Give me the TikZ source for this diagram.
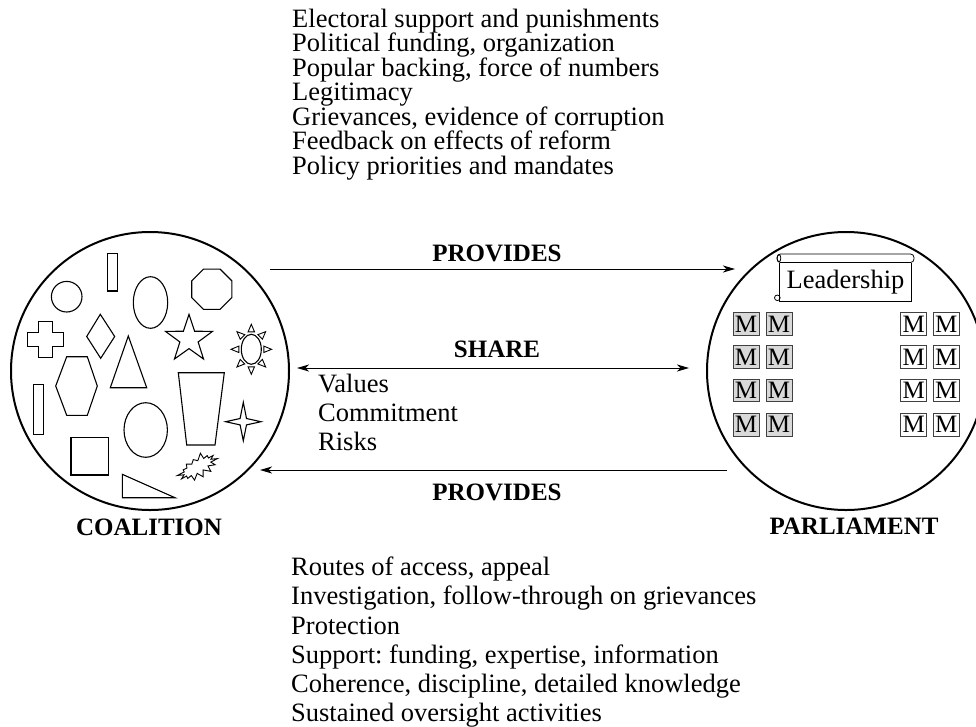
\documentclass[tikz,border=0pt]{standalone}
\usepackage{fontspec}
\setmainfont{Liberation Serif}
\usetikzlibrary{arrows.meta,shapes.geometric,shapes.symbols,calc}
\frenchspacing
\begin{document}
\begin{tikzpicture}[x=1pt,y=-1pt,
  txt/.style={font=\fontsize{26.5}{29}\selectfont, inner sep=0pt, anchor=base west},
  lbl/.style={font=\fontsize{25}{29}\selectfont\bfseries, inner sep=0pt, anchor=base},
  big/.style={circle, draw, line width=2pt, minimum size=278pt, inner sep=0pt},
  shp/.style={draw, line width=1.1pt, line join=miter},
  tip/.tip={Stealth[length=12pt,width=7pt,inset=3.5pt]},
  arr/.style={line width=1pt, -tip},
  mbox/.style={draw=black!75, line width=0.8pt, minimum width=26pt, minimum height=22.5pt, inner sep=0pt, font=\fontsize{25}{29}\selectfont},
  mfill/.style={mbox, fill=black!15}]
\useasboundingbox (0,0) rectangle (976,726);

% big circles
\node[big] (coal) at (150,371) {};
\node[big] (parl) at (846,371) {};
\node[lbl] (coallbl) at (149,535) {COALITION};
\node[lbl] (parllbl) at (854,534) {PARLIAMENT};

% arrows
\coordinate (p1s) at (270,269); \coordinate (p1e) at (735,269);
\draw[arr] (p1s) -- (p1e);
\node[lbl] (prov1) at (497,261) {PROVIDES};
\coordinate (s1) at (297,368); \coordinate (s2) at (689,368);
\draw[line width=1pt, tip-tip] (s1) -- (s2);
\node[lbl] (share) at (497,357) {SHARE};
\coordinate (p2s) at (727,470); \coordinate (p2e) at (260,470);
\draw[arr] (p2s) -- (p2e);
\node[lbl] (prov2) at (497,500.5) {PROVIDES};

% text lists
\foreach \t [count=\i from 0] in {Electoral support and punishments,
  {Political funding, organization}, {Popular backing, force of numbers},
  Legitimacy, {Grievances, evidence of corruption}, Feedback on effects of reform,
  Policy priorities and mandates}
  \node[txt] (top\i) at (292,27.3+24.45*\i) {\t};
\foreach \t [count=\i from 0] in {Values, Commitment, Risks}
  \node[txt] (mid\i) at (318,392.7+28.9*\i) {\t};
\foreach \t [count=\i from 0] in {{Routes of access, appeal},
  {Investigation, follow-through on grievances}, Protection,
  {Support: funding, expertise, information},
  {Coherence, discipline, detailed knowledge}, Sustained oversight activities}
  \node[txt] (bot\i) at (291,575.7+29.2*\i) {\t};

% leadership scroll
\draw[line width=0.8pt, rounded corners=3.5pt] (777,254) rectangle (914,262.5);
\draw[line width=0.8pt] (779,258.2) ellipse (1.8 and 3.6);
\draw[line width=0.8pt] (779.5,262.5) -- (779.5,301) -- (911.5,301) -- (911.5,262.5);
\draw[line width=0.8pt] (777.3,297.8) circle (2.8);
\node[font=\fontsize{26.5}{29}\selectfont, inner sep=0pt, anchor=base] (lead) at (845.5,288.3) {Leadership};

% M boxes
\foreach \x/\c in {746/a, 779/b}
  \foreach \y [count=\r] in {324,357,390.5,424.7}
    \node[mfill] (m\c\r) at (\x,\y) {M};
\foreach \x/\c in {913.7/c, 946.3/d}
  \foreach \y [count=\r] in {324,357,390.5,424.7}
    \node[mbox] (m\c\r) at (\x,\y) {M};

% shapes in coalition
\draw[shp] (107.3,253.3) rectangle (117.7,291);
\draw[shp] (66.7,296.7) circle (15.3);
\draw[shp] (150.5,302.5) ellipse (17.2 and 25.8);
\node[shp, regular polygon, regular polygon sides=8, minimum size=43.5pt, inner sep=0pt] (oct) at (211.8,289.2) {};
\draw[shp] (38.3,321.7) -- (52.3,321.7) -- (52.3,332.3) -- (63.3,332.3) -- (63.3,346.7) -- (52.3,346.7) -- (52.3,357.3) -- (38.3,357.3) -- (38.3,346.7) -- (27.3,346.7) -- (27.3,332.3) -- (38.3,332.3) -- cycle;
\draw[shp] (100.3,314.3) -- (114.7,336.5) -- (100.7,358.3) -- (86.7,336.5) -- cycle;
\draw[shp] (128.3,336) -- (146.7,387.7) -- (110.3,387.7) -- cycle;
\draw[shp] (189,314.3) \foreach \k in {1,...,9} { -- ({189+(mod(\k,2)==0?24.7:9.6)*cos(-90+36*\k)}, {339+(mod(\k,2)==0?24.7:9.6)*sin(-90+36*\k)}) } -- cycle;
% sun
\draw[shp] (251.3,349.3) ellipse (10 and 15);
\foreach \a in {0,45,...,315}
  \draw[line width=0.9pt, line join=miter] ({251.3+12.5*cos(\a)-3.2*sin(\a)}, {349.3+17.5*sin(\a)+3.2*cos(\a)}) -- ({251.3+20.3*cos(\a)}, {349.3+25*sin(\a)}) -- ({251.3+12.5*cos(\a)+3.2*sin(\a)}, {349.3+17.5*sin(\a)-3.2*cos(\a)}) -- cycle;
\draw[shp] (55.7,386) -- (66.7,356.7) -- (87.3,356.7) -- (97.3,386) -- (87.3,415.3) -- (66.7,415.3) -- cycle;
\draw[shp] (33.7,384.3) rectangle (43.7,434.3);
\draw[shp] (178.3,372.7) -- (224.3,372.7) -- (215,445) -- (186.7,445) -- cycle;
\draw[shp] (145.7,430) ellipse (21.7 and 27.3);
\draw[shp] (261,421.7) -- (246.5,418.5) -- (243.3,402.3) -- (240.1,418.5) -- (225.7,421.7) -- (240.1,424.9) -- (243.3,440.7) -- (246.5,424.9) -- cycle;
\draw[shp] (71,437.3) rectangle (108.7,475);
\draw[shp] (122.3,474.3) -- (175,497.7) -- (122.3,497.7) -- cycle;
\node[draw, line width=0.9pt, line join=miter, starburst, starburst points=14, starburst point height=7pt, random starburst=42, minimum width=45pt, minimum height=25pt, inner sep=0pt, rotate=30] (boom) at (197.5,467) {};
\end{tikzpicture}
\end{document}
